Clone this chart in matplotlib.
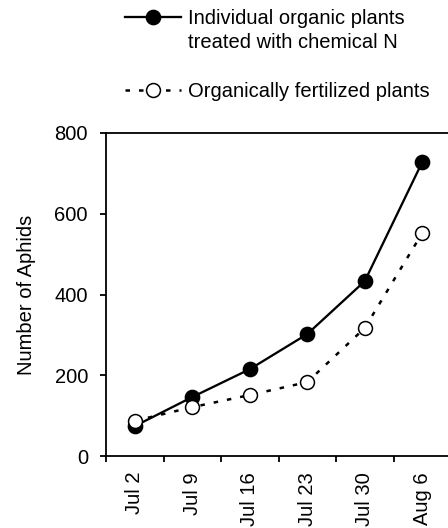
import matplotlib
matplotlib.use("Agg")
import matplotlib.pyplot as plt
import numpy as np
from matplotlib.legend_handler import HandlerLine2D

plt.rcParams['font.family'] = ['Liberation Sans', 'DejaVu Sans']

dates = ["Jul 2", "Jul 9", "Jul 16", "Jul 23", "Jul 30", "Aug 6"]
chem_n = [74, 146, 215, 302, 433, 728]
organic = [87, 121, 151, 183, 317, 552]
label_chem = "Individual organic plants\ntreated with chemical N"
label_org = "Organically fertilized plants"
ylabel = "Number of Aphids"
yticks = [0, 200, 400, 600, 800]

FS = 14.5
W, H = 448, 528
fig = plt.figure(figsize=(W / 100, H / 100), dpi=100)
ax = fig.add_axes([106 / W, (H - 456) / H, 345 / W, 323 / H])

x = np.arange(len(dates))
ax.plot(x, chem_n, color='black', lw=1.65, marker='o', markersize=10.3,
        markerfacecolor='black', markeredgecolor='black', label=label_chem, zorder=3)
ax.plot(x, organic, color='black', lw=1.8, linestyle=(0, (1.8, 3.6)), marker='o',
        markersize=10, markerfacecolor='white', markeredgecolor='black',
        markeredgewidth=1.1, label=label_org, zorder=4)

ax.set_xlim(-0.5, len(dates) - 0.5)
ax.set_ylim(0, 800)
ax.set_yticks(yticks)
ax.tick_params(axis='y', labelsize=FS, length=4.5, width=1.3, pad=8.5, direction='out')

ax.set_xticks(np.arange(-0.5, len(dates) - 0.5, 1.0))
ax.set_xticklabels([])
ax.set_xticks(x, minor=True)
ax.set_xticklabels(dates, minor=True, rotation=90, fontsize=FS, va='top', ha='center')
ax.tick_params(axis='x', which='major', length=4.5, width=1.3, direction='out')
ax.tick_params(axis='x', which='minor', length=0, pad=11.5)

ax.set_ylabel(ylabel, fontsize=FS, labelpad=13.5)

for s in ['left', 'bottom', 'top']:
    ax.spines[s].set_linewidth(1.3)
ax.spines['right'].set_visible(False)


class FirstLineHandler(HandlerLine2D):
    def __init__(self, shift=0.0, **kw):
        super().__init__(**kw)
        self.shift = shift

    def create_artists(self, legend, orig_handle, xdescent, ydescent, width,
                       height, fontsize, trans):
        arts = super().create_artists(legend, orig_handle, xdescent, ydescent,
                                      width, height, fontsize, trans)
        for a in arts:
            a.set_ydata(np.asarray(a.get_ydata()) + self.shift)
        return arts


h, l = ax.get_legend_handles_labels()
leg = fig.legend(h, l, loc='upper left', bbox_to_anchor=(125 / W, 1 - 9 / H),
                 frameon=False, fontsize=FS, borderpad=0, borderaxespad=0,
                 handlelength=2.8, handletextpad=0.35, labelspacing=1.45,
                 numpoints=1,
                 handler_map={h[0]: FirstLineHandler(shift=10.0)})
for t in leg.get_texts():
    t.set_linespacing(1.36)

fig.savefig("out.png", dpi=100)
